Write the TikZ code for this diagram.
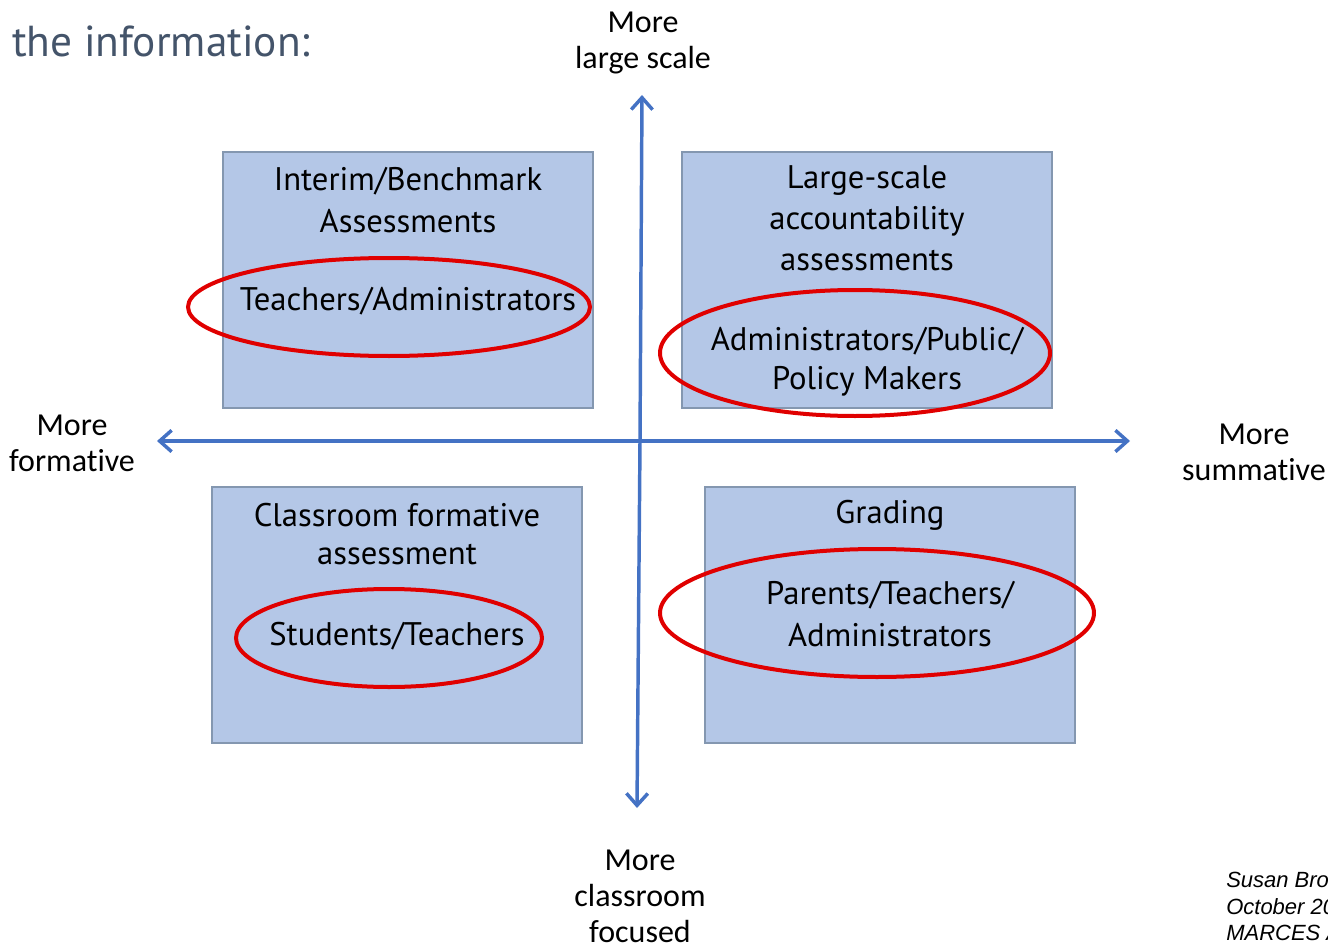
\documentclass[tikz,border=0pt]{standalone}
\usepackage{fontspec}
\setmainfont{PT Sans}
\newfontfamily\axisfont[Ligatures=NoCommon]{Carlito}
\newfontfamily\notefont{Liberation Sans}
\usetikzlibrary{arrows.meta}
\definecolor{boxfill}{HTML}{B4C7E7}
\definecolor{boxline}{HTML}{8497B0}
\definecolor{axisblue}{HTML}{4472C4}
\definecolor{ringred}{HTML}{E00000}
\definecolor{titlecol}{HTML}{44546A}
\begin{document}
\begin{tikzpicture}[x=0.75pt,y=-0.75pt,
  quad/.style={draw=boxline,fill=boxfill,line width=0.9pt},
  ring/.style={draw=ringred,line width=3pt},
  axis/.style={draw=axisblue,line width=2.6pt,-{Straight Barb[length=9pt,width=16pt,line width=2.6pt]}},
  btxt/.style={font=\fontsize{24.5}{30}\selectfont,text=black,inner sep=0pt,align=center},
  atxt/.style={font=\axisfont\fontsize{24}{27}\selectfont,text=black,inner sep=0pt,align=center},
  ntxt/.style={font=\notefont\itshape\fontsize{16.5}{20}\selectfont,text=black,inner sep=0pt,anchor=west}]
\useasboundingbox (0,0) rectangle (1328,945);
% boxes
\path[quad] (223,152) rectangle (593,408);
\path[quad] (682,152) rectangle (1052,408);
\path[quad] (212,487) rectangle (582,743);
\path[quad] (705,487) rectangle (1075,743);
% axes
\coordinate (top) at (642,95);
\coordinate (bot) at (637,808);
\coordinate (left) at (157,441);
\coordinate (right) at (1130,441);
\coordinate (mid) at (640,441);
\draw[axis] (mid) -- (top);
\draw[axis] (mid) -- (bot);
\draw[axis] (mid) -- (left);
\draw[axis] (mid) -- (right);
% box texts
\node[btxt] (tl1) at (408,181) {Interim/Benchmark};
\node[btxt] (tl2) at (408,221) {Assessments};
\node[btxt] (tl3) at (408,301) {Teachers/Administrators};
\node[btxt] (tr1) at (867,181) {Large-scale};
\node[btxt] (tr2) at (867,221) {accountability};
\node[btxt] (tr3) at (867,261) {assessments};
\node[btxt] (tr4) at (867,341) {Administrators/Public/};
\node[btxt] (tr5) at (867,381) {Policy Makers};
\node[btxt] (bl1) at (397,515) {Classroom formative};
\node[btxt] (bl2) at (397,555) {assessment};
\node[btxt] (bl3) at (397,636) {Students/Teachers};
\node[btxt] (br1) at (890,515) {Grading};
\node[btxt] (br2) at (890,595) {Parents/Teachers/};
\node[btxt] (br3) at (890,635) {Administrators};
% rings
\draw[ring] (389,307) ellipse [x radius=201, y radius=49];
\draw[ring] (855,353) ellipse [x radius=195, y radius=63];
\draw[ring] (389,638) ellipse [x radius=153, y radius=49];
\draw[ring] (877,613) ellipse [x radius=217, y radius=64];
% axis labels
\node[atxt] (ltop) at (643,43) {More\\large scale};
\node[atxt] (lleft) at (72,443) {More\\formative};
\node[atxt] (lright) at (1254,452) {More\\summative};
\node[atxt] (lbot) at (640,896) {More\\classroom\\focused};
% title
\node[font=\fontsize{32.5}{36}\selectfont,text=titlecol,inner sep=0pt,anchor=base west] (title) at (12,57) {the information:};
% note
\node[ntxt] (n1) at (1226,880) {Susan Bro};
\node[ntxt] (n2) at (1226,907) {October 20};
\node[ntxt] (n3) at (1226,933) {MARCES A};
\end{tikzpicture}
\end{document}
